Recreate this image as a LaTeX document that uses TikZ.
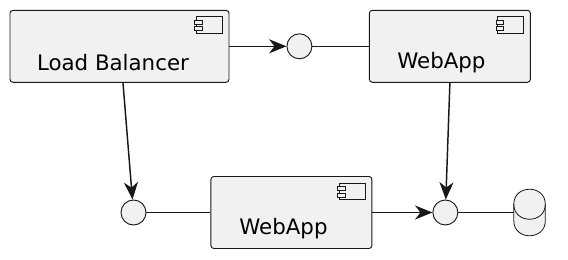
\documentclass[tikz,border=0pt]{standalone}
\usepackage{fontspec}
\setmainfont{DejaVu Sans}
\usepackage{xcolor}
\usetikzlibrary{arrows.meta, positioning}

\definecolor{compfill}{HTML}{F1F1F1}
\definecolor{compline}{HTML}{181818}

% small component symbol in the top right corner of a box
\newcommand{\compicon}[1]{%
  \draw[icon] ([shift={(-24.75pt,-5.25pt)}]#1.north east) rectangle ([shift={(-5.5pt,-17.7pt)}]#1.north east);
  \draw[icon] ([shift={(-26pt,-7.7pt)}]#1.north east) rectangle ([shift={(-20.5pt,-10.7pt)}]#1.north east);
  \draw[icon] ([shift={(-26pt,-12.75pt)}]#1.north east) rectangle ([shift={(-20.5pt,-15.75pt)}]#1.north east);
}

\begin{document}
\begin{tikzpicture}[
  x=0.75pt, y=0.75pt,
  comp/.style={rectangle, draw=compline, fill=compfill, line width=0.7pt,
               rounded corners=2.25pt, minimum width=#1, minimum height=54pt, inner sep=0pt},
  comptext/.style={font=\fontsize{16pt}{19pt}\selectfont, anchor=base, inner sep=0pt,
                   xshift=#1, yshift=-12.3pt},
  iface/.style={circle, draw=compline, fill=compfill, line width=0.7pt,
                minimum size=18.75pt, inner sep=0pt},
  dbase/.style={rectangle, minimum width=23.25pt, minimum height=34.5pt, inner sep=0pt},
  icon/.style={draw=compline, fill=compfill, line width=0.6pt},
  arr/.style={-{Stealth[length=13pt, width=10.5pt, inset=4pt]}, line width=1.1pt, draw=compline},
  link/.style={line width=1.1pt, draw=compline}
]
\useasboundingbox (0,0) rectangle (568,260);

% Top row: Load Balancer -> interface -- WebApp
\node[comp=164.25pt, label={[comptext=-4.9pt]center:Load Balancer}] (lb) at (119.5,213.7) {};
\node[iface, right=42.75pt of lb] (ifa) {};
\node[comp=120.75pt, right=42.4pt of ifa, label={[comptext=-6.4pt]center:WebApp}] (weba) {};

% Bottom row: interface -- WebApp -> interface -- database
\node[iface] (ifb) at (133.5,47.5) {};
\node[comp=120.75pt, right=48pt of ifb, label={[comptext=-6pt]center:WebApp}] (webb) {};
\node[iface, right=45pt of webb] (ifc) {};
\node[dbase, right=41.6pt of ifc] (db) {};

\compicon{lb}
\compicon{weba}
\compicon{webb}

% database symbol
\draw[icon] ([yshift=-11.25pt]db.north west) .. controls +(0,15pt) and +(0,15pt) .. ([yshift=-11.25pt]db.north east)
  -- ([yshift=11.25pt]db.south east) .. controls +(0,-15pt) and +(0,-15pt) .. ([yshift=11.25pt]db.south west) -- cycle;
\draw[icon, fill=none] ([yshift=-11.25pt]db.north west) .. controls +(0,-15pt) and +(0,-15pt) .. ([yshift=-11.25pt]db.north east);

% Connectors
\draw[arr] (lb) -- (ifa);
\draw[link] (ifa) -- (weba);
\draw[arr] ([xshift=2.6pt]lb.south) -- (ifb);
\draw[arr] (weba.south) -- (ifc);
\draw[link] (ifb) -- (webb);
\draw[arr] (webb) -- (ifc);
\draw[link] (ifc) -- (db);

\end{tikzpicture}
\end{document}
